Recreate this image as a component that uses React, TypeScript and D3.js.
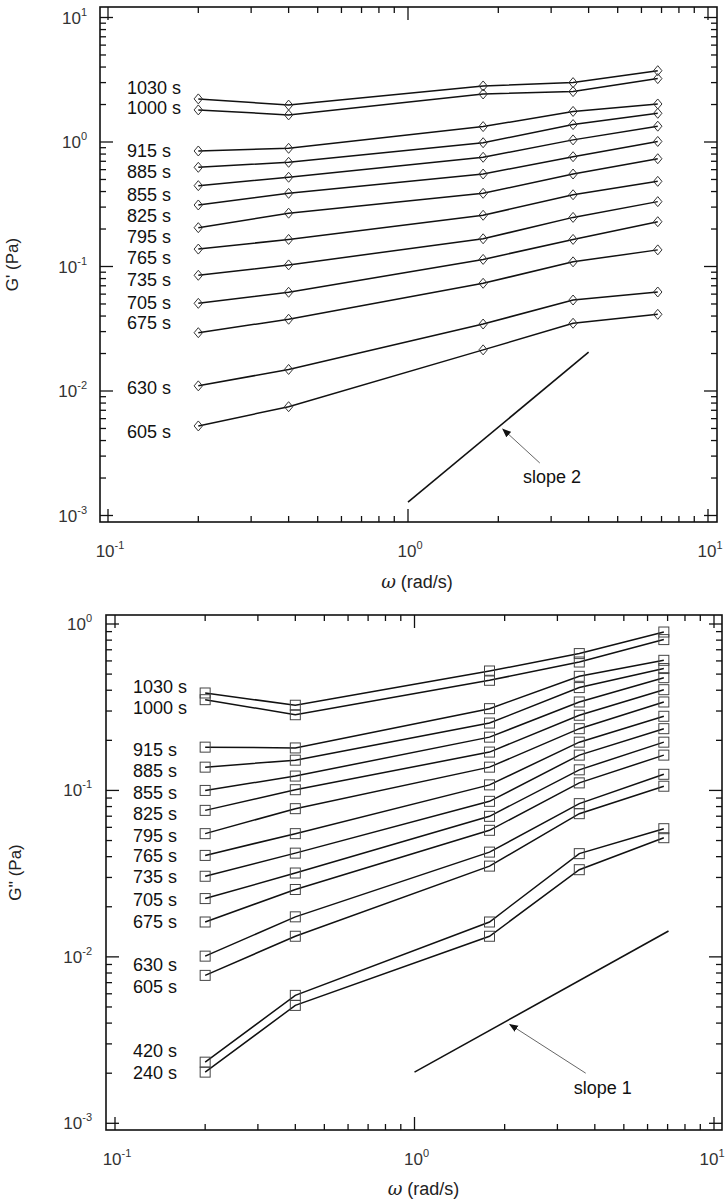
import * as d3 from "d3";

// frequencies (rad/s) shared by both sweeps
const omega = [0.2, 0.4, 1.78, 3.55, 6.8];

// G' (Pa), top panel
const topNames = ["1030 s", "1000 s", "915 s", "885 s", "855 s", "825 s", "795 s", "765 s", "735 s", "705 s", "675 s", "630 s", "605 s"];
const gPrime = [
	[2.22, 1.98, 2.82, 3.0, 3.74],
	[1.81, 1.65, 2.43, 2.54, 3.23],
	[0.847, 0.89, 1.33, 1.76, 2.02],
	[0.626, 0.687, 0.987, 1.38, 1.7],
	[0.446, 0.521, 0.754, 1.04, 1.34],
	[0.312, 0.387, 0.553, 0.762, 1.01],
	[0.205, 0.268, 0.387, 0.553, 0.734],
	[0.138, 0.165, 0.258, 0.377, 0.483],
	[0.085, 0.103, 0.167, 0.248, 0.332],
	[0.0506, 0.0621, 0.114, 0.165, 0.229],
	[0.0294, 0.0377, 0.0733, 0.109, 0.136],
	[0.011, 0.0149, 0.0345, 0.0538, 0.0624],
	[0.00524, 0.00748, 0.0214, 0.035, 0.0413],
];
// where each name sits on the G' axis
const topLabelAt = [2.73, 1.875, 0.847, 0.574, 0.382, 0.255, 0.173, 0.117, 0.078, 0.0512, 0.0352, 0.0106, 0.00469];

// G'' (Pa), bottom panel
const bottomNames = ["1030 s", "1000 s", "915 s", "885 s", "855 s", "825 s", "795 s", "765 s", "735 s", "705 s", "675 s", "630 s", "605 s", "420 s", "240 s"];
const gDouble = [
	[0.385, 0.325, 0.522, 0.664, 0.895],
	[0.351, 0.285, 0.459, 0.591, 0.806],
	[0.182, 0.18, 0.31, 0.485, 0.605],
	[0.138, 0.152, 0.254, 0.415, 0.54],
	[0.1, 0.122, 0.209, 0.34, 0.476],
	[0.0759, 0.101, 0.17, 0.283, 0.403],
	[0.055, 0.0777, 0.138, 0.235, 0.34],
	[0.0407, 0.055, 0.108, 0.195, 0.279],
	[0.0305, 0.042, 0.086, 0.163, 0.235],
	[0.0224, 0.0319, 0.0699, 0.133, 0.195],
	[0.0162, 0.0254, 0.0576, 0.111, 0.163],
	[0.0101, 0.0174, 0.0426, 0.0833, 0.125],
	[0.00774, 0.0133, 0.0351, 0.0725, 0.106],
	[0.00233, 0.00587, 0.0162, 0.0417, 0.0589],
	[0.00203, 0.00511, 0.0133, 0.0334, 0.052],
];
const bottomLabelAt = [0.422, 0.317, 0.175, 0.131, 0.0975, 0.0728, 0.0539, 0.0404, 0.0303, 0.0221, 0.0164, 0.009, 0.00665, 0.00272, 0.00201];

// reference slopes and their callouts: [omega, G]
const slope2Line = [[1, 0.00128], [4, 0.0205]];
const slope2Arrow = [[2.75, 0.00264], [2.07, 0.00495]];
const slope2Text = [3.02, 0.00204];
const slope1Line = [[1, 0.00203], [7.05, 0.0143]];
const slope1Arrow = [[3.73, 0.002], [2.08, 0.00393]];
const slope1Text = [4.25, 0.00164];

const xTickExp = [-1, 0, 1];

const SANS = "Arial, 'Liberation Sans', Helvetica, sans-serif";
const W = 727;

function Pow({ x, y, exp, anchor }: { x: number; y: number; exp: number; anchor: string }) {
	return (
		<text x={x} y={y} textAnchor={anchor} fontFamily={SANS} fontSize={17} fill="#333">
			10
			<tspan fontSize={11} dy={-8}>{exp}</tspan>
		</text>
	);
}

interface PanelProps {
	frame: { left: number; right: number; top: number; bottom: number };
	xRange: [number, number];
	yDomain: [number, number];
	yRange: [number, number];
	names: string[];
	values: number[][];
	labelAt: number[];
	marker: "diamond" | "square";
	slopeLine: number[][];
	arrow: number[][];
	slopeText: number[];
	slopeLabel: string;
	yTitle: string;
	yTitleX: number;
	xTitleY: number;
	xTickY: number;
	yTickX: number;
}

function Panel(p: PanelProps) {
	const x = d3.scaleLog().domain([0.1, 10]).range(p.xRange);
	const y = d3.scaleLog().domain(p.yDomain).range(p.yRange);
	const { left, right, top, bottom } = p.frame;

	const isMajor = (v: number) => Math.abs(Math.log10(v) - Math.round(Math.log10(v))) < 1e-6;
	const xt = x.ticks();
	const yt = y.ticks();

	const line = d3
		.line<number>()
		.x((_d, i) => x(omega[i]))
		.y((d) => y(d));

	const ticks: JSX.Element[] = [];
	xt.forEach((v, i) => {
		const len = isMajor(v) ? 13 : 6;
		const px = x(v);
		ticks.push(<line key={`xb${i}`} x1={px} x2={px} y1={bottom} y2={bottom - len} />);
		ticks.push(<line key={`xt${i}`} x1={px} x2={px} y1={top} y2={top + len} />);
	});
	yt.forEach((v, i) => {
		const len = isMajor(v) ? 13 : 6;
		const py = y(v);
		ticks.push(<line key={`yl${i}`} x1={left} x2={left + len} y1={py} y2={py} />);
		ticks.push(<line key={`yr${i}`} x1={right} x2={right - len} y1={py} y2={py} />);
	});

	const yExp = d3.range(Math.round(Math.log10(p.yDomain[0])), Math.round(Math.log10(p.yDomain[1])) + 1);
	const titleCy = (top + bottom) / 2;
	const xMid = x(1);

	return (
		<g>
			<rect x={left} y={top} width={right - left} height={bottom - top} fill="none" stroke="#111" strokeWidth={1.6} />
			<g stroke="#111" strokeWidth={1.3}>{ticks}</g>

			{yExp.map((e) => (
				<Pow key={`ye${e}`} x={p.yTickX} y={y(Math.pow(10, e)) + 6} exp={e} anchor="end" />
			))}
			{xTickExp.map((e) => (
				// keep the last label inside the page
				<Pow key={`xe${e}`} x={Math.min(x(Math.pow(10, e)) + 2, W - 15)} y={p.xTickY} exp={e} anchor="middle" />
			))}

			{p.values.map((s, i) => (
				<path key={`l${i}`} d={line(s) || ""} fill="none" stroke="#111" strokeWidth={1.5} />
			))}
			{p.values.map((s, i) =>
				s.map((v, j) =>
					p.marker === "diamond" ? (
						<path
							key={`m${i}-${j}`}
							transform={`translate(${x(omega[j])},${y(v)})`}
							d="M0,-5L4.2,0L0,5L-4.2,0Z"
							fill="none"
							stroke="#333"
							strokeWidth={1}
						/>
					) : (
						<rect
							key={`m${i}-${j}`}
							x={x(omega[j]) - 5}
							y={y(v) - 5}
							width={10}
							height={10}
							fill="none"
							stroke="#444"
							strokeWidth={1}
						/>
					)
				)
			)}

			{p.names.map((n, i) => (
				<text key={`n${i}`} x={left + 27} y={y(p.labelAt[i])} dy="0.36em" fontFamily={SANS} fontSize={18} fill="#111">
					{n}
				</text>
			))}

			<line
				x1={x(p.slopeLine[0][0])}
				y1={y(p.slopeLine[0][1])}
				x2={x(p.slopeLine[1][0])}
				y2={y(p.slopeLine[1][1])}
				stroke="#111"
				strokeWidth={1.6}
			/>
			<line
				x1={x(p.arrow[0][0])}
				y1={y(p.arrow[0][1])}
				x2={x(p.arrow[1][0])}
				y2={y(p.arrow[1][1])}
				stroke="#555"
				strokeWidth={0.9}
				markerEnd="url(#arrowHead)"
			/>
			<text x={x(p.slopeText[0])} y={y(p.slopeText[1])} dy="0.36em" textAnchor="middle" fontFamily={SANS} fontSize={18} fill="#111">
				{p.slopeLabel}
			</text>

			<text
				transform={`translate(${p.yTitleX},${titleCy}) rotate(-90)`}
				textAnchor="middle"
				dy="0.36em"
				fontFamily={SANS}
				fontSize={17}
				fill="#222"
			>
				{p.yTitle}
			</text>
			<text x={xMid + 9} y={p.xTitleY} textAnchor="middle" fontFamily={SANS} fontSize={18} fill="#222">
				<tspan fontFamily="'DejaVu Serif', 'Liberation Serif', serif" fontStyle="italic">ω</tspan> (rad/s)
			</text>
		</g>
	);
}

export default function App() {
	return (
		<svg width={W} height={1199} style={{ position: "absolute", left: 0, top: 0, background: "#fff" }}>
			<defs>
				<marker id="arrowHead" viewBox="0 0 10 10" refX={9} refY={5} markerWidth={9} markerHeight={9} markerUnits="userSpaceOnUse" orient="auto">
					<path d="M0,1L10,5L0,9Z" fill="#111" />
				</marker>
			</defs>
			<Panel
				frame={{ left: 100, right: 717, top: 7, bottom: 522 }}
				xRange={[108, 708]}
				yDomain={[1e-3, 10]}
				yRange={[515.5, 17.5]}
				names={topNames}
				values={gPrime}
				labelAt={topLabelAt}
				marker="diamond"
				slopeLine={slope2Line}
				arrow={slope2Arrow}
				slopeText={slope2Text}
				slopeLabel="slope 2"
				yTitle="G' (Pa)"
				yTitleX={12}
				xTitleY={588}
				xTickY={557}
				yTickX={87}
			/>
			<Panel
				frame={{ left: 106, right: 722, top: 615, bottom: 1130 }}
				xRange={[115, 714]}
				yDomain={[1e-3, 1]}
				yRange={[1123.3, 624]}
				names={bottomNames}
				values={gDouble}
				labelAt={bottomLabelAt}
				marker="square"
				slopeLine={slope1Line}
				arrow={slope1Arrow}
				slopeText={slope1Text}
				slopeLabel="slope 1"
				yTitle="G'' (Pa)"
				yTitleX={15}
				xTitleY={1195}
				xTickY={1165}
				yTickX={92}
			/>
		</svg>
	);
}
